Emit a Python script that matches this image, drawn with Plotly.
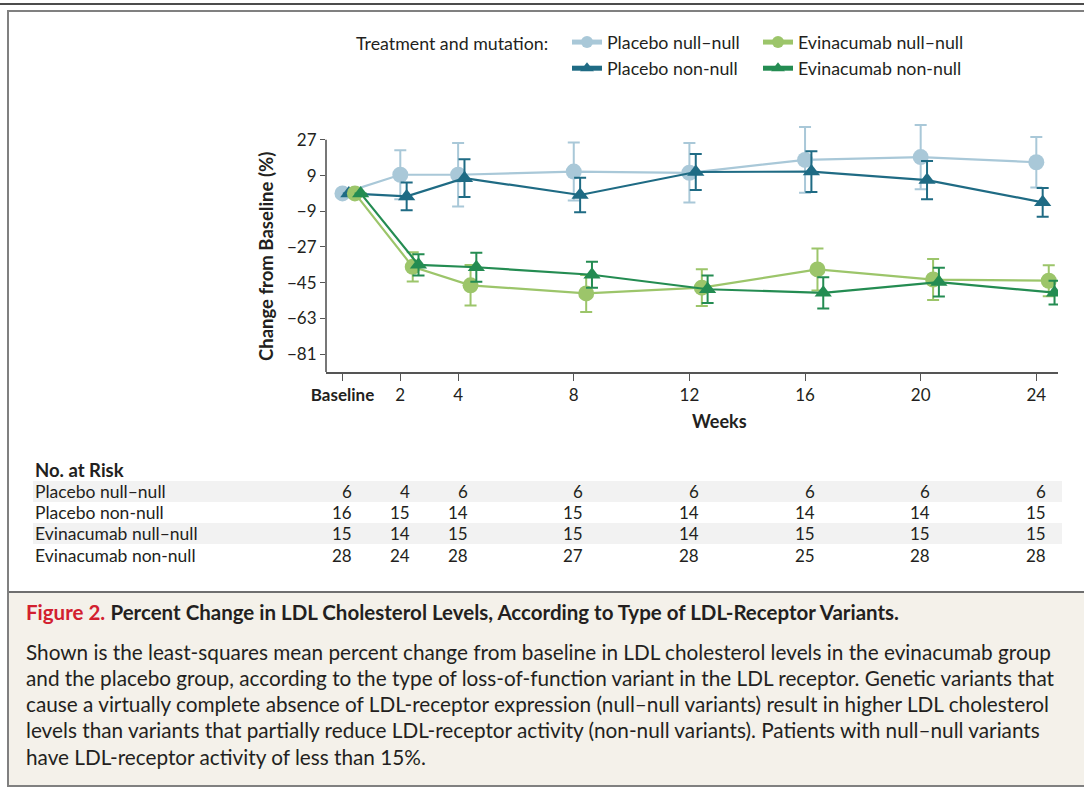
import plotly.graph_objects as go

# ---------------- data ----------------
weeks = [0, 2, 4, 8, 12, 16, 20, 24]
week_labels = ["Baseline", "2", "4", "8", "12", "16", "20", "24"]

placebo_null_null = [0, 9.4, 9.4, 11.0, 10.4, 16.9, 18.3, 15.7]
placebo_null_null_err = [None, 12.3, 16.0, 14.6, 15.0, 16.6, 16.2, 12.7]

placebo_non_null = [0, -1.5, 7.7, -0.8, 10.8, 11.0, 6.7, -4.5]
placebo_non_null_err = [None, 7.0, 9.5, 8.7, 9.1, 10.3, 9.7, 7.2]

evinacumab_null_null = [0, -37.0, -46.3, -50.4, -47.5, -38.3, -43.4, -44.0]
evinacumab_null_null_err = [None, 7.4, 10.2, 9.3, 9.3, 10.6, 10.3, 7.8]

evinacumab_non_null = [0, -36.0, -37.2, -41.0, -48.3, -50.1, -44.7, -50.0]
evinacumab_non_null_err = [None, 5.4, 7.3, 6.6, 6.9, 7.9, 7.3, 6.0]

y_ticks = [27, 9, -9, -27, -45, -63, -81]

risk_labels = ["Placebo null\u2013null", "Placebo non-null",
               "Evinacumab null\u2013null", "Evinacumab non-null"]
risk_placebo_null_null = [6, 4, 6, 6, 6, 6, 6, 6]
risk_placebo_non_null = [16, 15, 14, 15, 14, 14, 14, 15]
risk_evinacumab_null_null = [15, 14, 15, 15, 14, 15, 15, 15]
risk_evinacumab_non_null = [28, 24, 28, 27, 28, 25, 28, 28]

caption_title = "Percent Change in LDL Cholesterol Levels, According to Type of LDL-Receptor Variants."
caption_lines = [
    "Shown is the least-squares mean percent change from baseline in LDL cholesterol levels in the evinacumab group",
    "and the placebo group, according to the type of loss-of-function variant in the LDL receptor. Genetic variants that",
    "cause a virtually complete absence of LDL-receptor expression (null\u2013null variants) result in higher LDL cholesterol",
    "levels than variants that partially reduce LDL-receptor activity (non-null variants). Patients with null\u2013null variants",
    "have LDL-receptor activity of less than 15%.",
]

# ---------------- layout helpers ----------------
W, H = 1084, 788
L, R, T, B = 326, 1058, 120, 372  # plot area in pixels
FONT = "Lato"
TXT = "#231f20"


def px_x(x):
    return (x - L) / (R - L)


def px_y(y):
    return (B - y) / (B - T)


C_PNN = "#a9c8d8"
C_PNON = "#1f6b84"
C_ENN = "#9cc56a"
C_ENON = "#248c52"

series = [
    ("Placebo null\u2013null", placebo_null_null, placebo_null_null_err, C_PNN, "circle", 16, 0.0, "legend"),
    ("Placebo non-null", placebo_non_null, placebo_non_null_err, C_PNON, "triangle-up", 15, 0.22, "legend"),
    ("Evinacumab null\u2013null", evinacumab_null_null, evinacumab_null_null_err, C_ENN, "circle", 16, 0.43, "legend2"),
    ("Evinacumab non-null", evinacumab_non_null, evinacumab_non_null_err, C_ENON, "triangle-up", 15, 0.63, "legend2"),
]

fig = go.Figure()
for name, vals, errs, col, sym, size, dx, lg in series:
    fig.add_trace(go.Scatter(
        x=[w + dx for w in weeks], y=vals, name=name, mode="lines+markers",
        line=dict(color=col, width=2.2),
        marker=dict(symbol=sym, size=size, color=col, line=dict(width=0)),
        error_y=dict(type="data", array=errs, visible=True, color=col,
                     thickness=2, width=6),
        legend=lg,
    ))

shapes = []
annotations = []

# y-axis line (drawn only up to the top tick)
shapes.append(dict(type="line", xref="paper", yref="y", x0=0, x1=0, y0=-90, y1=27,
                   line=dict(color="#555555", width=1.6), layer="above"))

# frame lines
shapes.append(dict(type="line", xref="paper", yref="paper", x0=px_x(0), x1=px_x(W),
                   y0=px_y(4), y1=px_y(4), line=dict(color="#111111", width=1.5)))
shapes.append(dict(type="rect", xref="paper", yref="paper", x0=px_x(8), x1=px_x(W + 20),
                   y0=px_y(592), y1=px_y(786), fillcolor="#f4f1ea",
                   line=dict(width=0), layer="below"))
shapes.append(dict(type="line", xref="paper", yref="paper", x0=px_x(8), x1=px_x(W + 20),
                   y0=px_y(592), y1=px_y(592), line=dict(color="#6f6f6f", width=2)))
shapes.append(dict(type="rect", xref="paper", yref="paper", x0=px_x(8), x1=px_x(W + 20),
                   y0=px_y(11), y1=px_y(786), line=dict(color="#808080", width=2),
                   fillcolor="rgba(0,0,0,0)"))

# legend title
annotations.append(dict(text="Treatment and mutation:", xref="paper", yref="paper",
                        x=px_x(354), y=px_y(43), xanchor="left", yanchor="middle",
                        showarrow=False, font=dict(family=FONT, size=17.8, color=TXT)))

# axis titles
annotations.append(dict(text="<b>Change from Baseline (%)</b>", xref="paper", yref="paper",
                        x=px_x(266), y=px_y(257), xanchor="center", yanchor="middle",
                        textangle=-90, showarrow=False,
                        font=dict(family=FONT, size=18.5, color=TXT)))
annotations.append(dict(text="<b>Weeks</b>", xref="paper", yref="paper",
                        x=px_x(719), y=px_y(421), xanchor="center", yanchor="middle",
                        showarrow=False, font=dict(family=FONT, size=18, color=TXT)))

# No. at risk table
annotations.append(dict(text="<b>No. at Risk</b>", xref="paper", yref="paper",
                        x=px_x(33), y=px_y(470), xanchor="left", yanchor="middle",
                        showarrow=False, font=dict(family=FONT, size=18.5, color=TXT)))
row_y = [491.5, 512.5, 533.5, 555]
risk_rows = [risk_placebo_null_null, risk_placebo_non_null,
             risk_evinacumab_null_null, risk_evinacumab_non_null]
for i, (lab, row, yy) in enumerate(zip(risk_labels, risk_rows, row_y)):
    if i % 2 == 0:
        shapes.append(dict(type="rect", xref="paper", yref="paper", x0=px_x(33), x1=px_x(1062),
                           y0=px_y(yy - 10.5), y1=px_y(yy + 10.5), fillcolor="#f2f2f2",
                           line=dict(width=0), layer="below"))
    annotations.append(dict(text=lab, xref="paper", yref="paper", x=px_x(33), y=px_y(yy),
                            xanchor="left", yanchor="middle", showarrow=False,
                            font=dict(family=FONT, size=17.5, color=TXT)))
    for w, n in zip(weeks, row):
        annotations.append(dict(text=str(n), xref="x", yref="paper", x=w + 0.4, y=px_y(yy),
                                xanchor="right", yanchor="middle", showarrow=False,
                                font=dict(family=FONT, size=17, color=TXT)))

# caption
annotations.append(dict(
    text="<span style='color:#d2202f'><b>Figure 2.</b></span> <b>" + caption_title + "</b>",
    xref="paper", yref="paper", x=px_x(24), y=px_y(612), xanchor="left", yanchor="middle",
    showarrow=False, font=dict(family=FONT, size=20.5, color=TXT)))
for k, line in enumerate(caption_lines):
    annotations.append(dict(text=line, xref="paper", yref="paper", x=px_x(24),
                            y=px_y(651.5 + 26.3 * k), xanchor="left", yanchor="middle",
                            showarrow=False, font=dict(family=FONT, size=20.75, color=TXT)))

legend_common = dict(orientation="v", xanchor="left", yanchor="middle",
                     font=dict(family=FONT, size=17.8, color=TXT),
                     bgcolor="rgba(0,0,0,0)", itemsizing="constant", borderwidth=0)

fig.update_layout(
    width=W, height=H,
    margin=dict(l=L, r=W - R, t=T, b=H - B, pad=0),
    paper_bgcolor="white", plot_bgcolor="white",
    font=dict(family=FONT, color=TXT),
    showlegend=True,
    legend=dict(x=px_x(567), y=px_y(55.5), **legend_common),
    legend2=dict(x=px_x(758), y=px_y(55.5), **legend_common),
    xaxis=dict(range=[-0.57, 24.75], tickmode="array", tickvals=weeks,
               ticktext=["<b>Baseline</b>"] + week_labels[1:],
               showgrid=False, zeroline=False, showline=True, linecolor="#555555",
               linewidth=1.6, ticks="outside", ticklen=7, tickwidth=1.4, tickcolor="#555555",
               tickfont=dict(family=FONT, size=17, color=TXT), fixedrange=True),
    yaxis=dict(range=[-90, 37], tickmode="array", tickvals=y_ticks,
               ticktext=[str(v).replace("-", "\u2212") for v in y_ticks],
               showgrid=False, zeroline=False, showline=False,
               ticks="outside", ticklen=5, tickwidth=1.4, tickcolor="#555555",
               tickfont=dict(family=FONT, size=17, color=TXT), fixedrange=True),
    shapes=shapes,
    annotations=annotations,
)

fig.write_html("out.html", config={"displayModeBar": False},
               post_script="document.body.style.margin='0';")
